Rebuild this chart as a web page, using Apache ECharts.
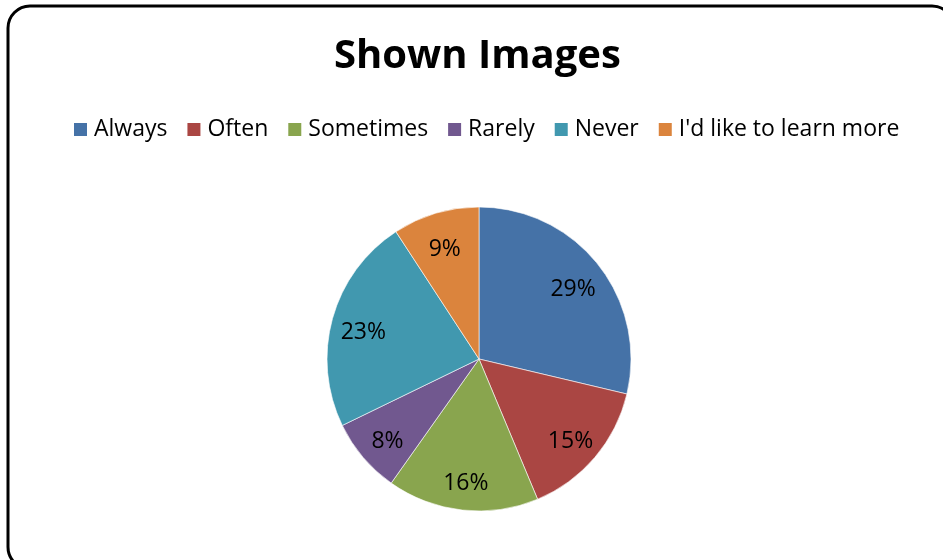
<!DOCTYPE html>
<html>
<head>
<meta charset="utf-8">
<script src="https://cdn.jsdelivr.net/npm/echarts@6/dist/echarts.min.js"></script>
<style>
html,body{margin:0;padding:0;background:#fff;}
#chart{width:943px;height:560px;}
</style>
</head>
<body>
<div id="chart"></div>
<script>
const categories = ['Always', 'Often', 'Sometimes', 'Rarely', 'Never', "I'd like to learn more"];
const values = [28.7, 15.0, 16.1, 8.0, 23.0, 9.2];
const colors = ['#4572A7', '#AA4643', '#89A54E', '#71588F', '#4198AF', '#DB843D'];
const titleText = 'Shown Images';

const data = categories.map((c, i) => ({ name: c, value: values[i] }));
const FONT = 'Open Sans';

const chart = echarts.init(document.getElementById('chart'), null, { renderer: 'canvas' });
chart.setOption({
  animation: false,
  backgroundColor: '#fff',
  color: colors,
  title: {
    text: titleText,
    left: 334,
    top: 37,
    padding: 0,
    textStyle: { fontFamily: FONT, fontWeight: 'bold', fontSize: 40, color: '#000' }
  },
  legend: {
    data: categories,
    top: 118,
    left: 72,
    padding: 0,
    icon: 'rect',
    itemWidth: 15,
    itemHeight: 15,
    itemGap: 18,
    textStyle: { fontFamily: FONT, fontSize: 23, color: '#000', padding: [0, 0, 0, 1] }
  },
  graphic: [{
    type: 'rect',
    shape: { x: 8, y: 6, width: 946, height: 563, r: 22 },
    style: { fill: 'none', stroke: '#000', lineWidth: 3 },
    silent: true,
    z: 100
  }],
  series: [
    {
      type: 'pie',
      center: [479, 359],
      radius: [0, 152],
      startAngle: 90,
      clockwise: true,
      data: data,
      label: { show: false },
      labelLine: { show: false },
      itemStyle: { borderColor: '#fff', borderWidth: 0.6 },
      emphasis: { disabled: true }
    },
    {
      type: 'pie',
      center: [479, 359],
      radius: [82, 152],
      startAngle: 90,
      clockwise: true,
      data: data,
      silent: true,
      itemStyle: { color: 'rgba(0,0,0,0)', borderWidth: 0 },
      label: {
        show: true,
        position: 'inside',
        fontFamily: FONT,
        fontSize: 23,
        color: '#000',
        offset: [0, 5],
        formatter: p => Math.round(p.percent) + '%'
      },
      labelLine: { show: false },
      emphasis: { disabled: true }
    }
  ]
});
</script>
</body>
</html>
